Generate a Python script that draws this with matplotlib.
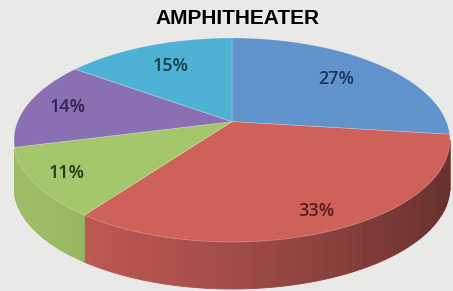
import numpy as np
import matplotlib
matplotlib.use("Agg")
import matplotlib.pyplot as plt
from matplotlib.patches import Polygon
from matplotlib.colors import to_rgb

title = "AMPHITHEATER"
shares = [27, 33, 11, 14, 15]
labels = ["27%", "33%", "11%", "14%", "15%"]
top_colors = ["#6193cd", "#cf615b", "#a5c76b", "#8b6fb3", "#4fb1d3"]
text_colors = ["#1d3558", "#5a1f1c", "#253a0e", "#33234f", "#163f4f"]

# layout of the tilted pie, in pixels of the 453x291 picture
cx, cy = 232, 140        # centre of the top ellipse
A, B = 218, 102          # semi axes of the top ellipse
k = 0.18                 # perspective strength
depth = 47               # thickness of the side
label_r = [0.70, 0.85, 0.85, 0.80, 0.70]


def project(u, v):
    # disk point (u right, v back) -> screen pixels
    w = 1 + k * v
    X = u / w * np.sqrt(1 - k * k)
    Y = (v + k) / w
    return cx + A * X, cy - B * Y


def screen_angle(theta):
    x, y = project(np.cos(theta), np.sin(theta))
    return np.arctan2(-(y - cy) / B, (x - cx) / A)


fig = plt.figure(figsize=(4.53, 2.91), dpi=100)
fig.patch.set_facecolor("#e9e9e7")
ax = fig.add_axes([0, 0, 1, 1])
ax.set_xlim(0, 453)
ax.set_ylim(291, 0)
ax.axis("off")

fracs = np.array(shares, dtype=float) / sum(shares)
edges = np.pi / 2 - 2 * np.pi * np.concatenate([[0], np.cumsum(fracs)])

# side walls, visible only on the front half of the ellipse
for i in range(len(shares)):
    a0 = screen_angle(edges[i])
    a1 = screen_angle(edges[i + 1])
    # walk clockwise from a0 to a1 in screen angle
    while a1 > a0:
        a1 -= 2 * np.pi
    psi = np.linspace(a0, a1, 400)
    psi = np.mod(psi, 2 * np.pi)
    front = psi > np.pi + 0.08
    if front.sum() < 2:
        continue
    psi = psi[front]
    base = np.array(to_rgb(top_colors[i]))
    steps = np.linspace(0, len(psi) - 1, min(len(psi), 60)).astype(int)
    for j in range(len(steps) - 1):
        p = psi[steps[j]:steps[j + 1] + 1]
        xs = cx + A * np.cos(p)
        ys = cy - B * np.sin(p)
        pos = (xs.mean() - (cx - A)) / (2 * A)
        shade = 0.95 - 0.45 * pos ** 1.4
        col = np.clip(base * shade, 0, 1)
        pts = np.vstack([np.column_stack([xs, ys]),
                         np.column_stack([xs[::-1], ys[::-1] + depth])])
        ax.add_patch(Polygon(pts, closed=True, facecolor=col,
                             edgecolor=col, linewidth=0.6))

# top faces
for i in range(len(shares)):
    t = np.linspace(edges[i], edges[i + 1], 200)
    xs, ys = project(np.cos(t), np.sin(t))
    ox, oy = project(0, 0)
    pts = np.vstack([[ox, oy], np.column_stack([xs, ys])])
    ax.add_patch(Polygon(pts, closed=True, facecolor=top_colors[i],
                         edgecolor=(1, 1, 1, 0.25), linewidth=0.6))

for i in range(len(shares)):
    mid = (edges[i] + edges[i + 1]) / 2
    lx, ly = project(label_r[i] * np.cos(mid), label_r[i] * np.sin(mid))
    ax.text(lx, ly, labels[i], ha="center", va="center", fontsize=13,
            family="Open Sans", fontweight="semibold", color=text_colors[i])

ax.text(237, 19, title, ha="center", va="center", fontsize=15,
        fontweight="bold", family=["Liberation Sans", "DejaVu Sans"],
        color="black")

fig.savefig("out.png", dpi=100, facecolor=fig.get_facecolor())
